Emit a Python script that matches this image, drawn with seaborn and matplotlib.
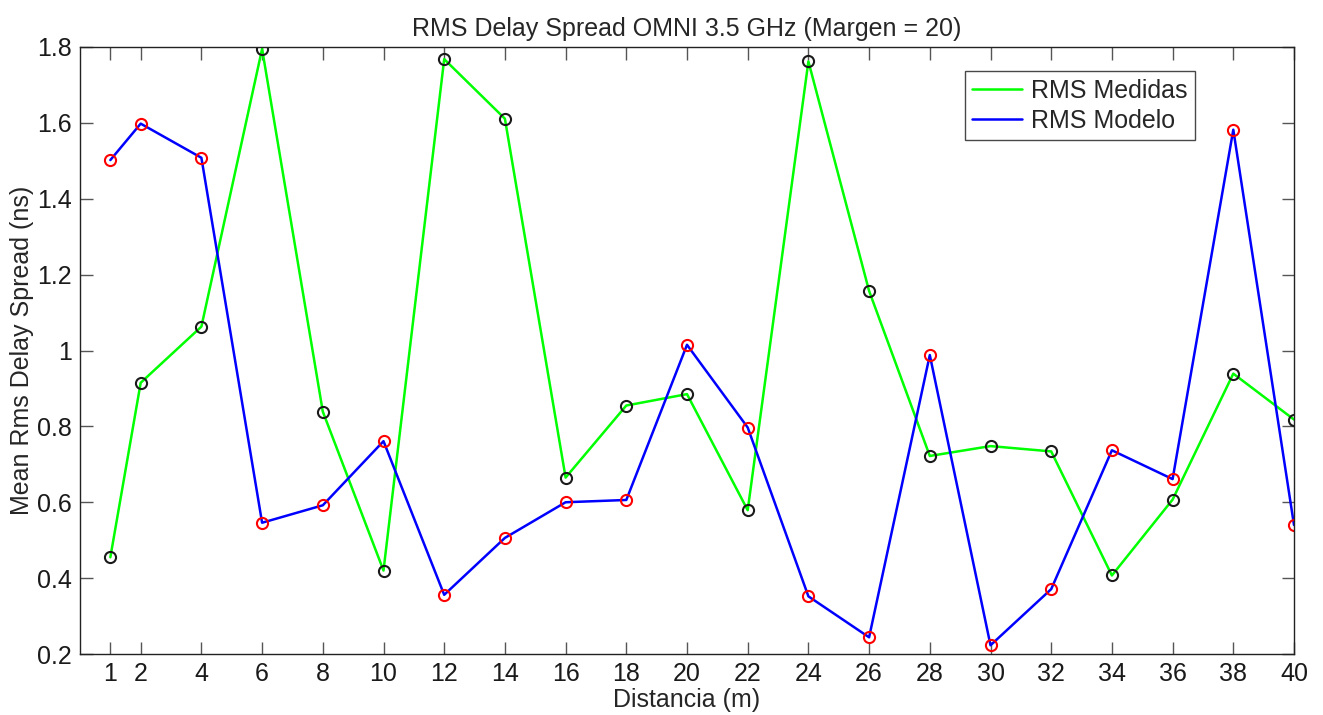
import matplotlib
matplotlib.use("Agg")
import matplotlib.pyplot as plt
import seaborn as sns
import pandas as pd

distancia = [1, 2, 4, 6, 8, 10, 12, 14, 16, 18, 20, 22, 24, 26, 28, 30, 32, 34, 36, 38, 40]
rms_medidas = [0.455, 0.915, 1.063, 1.795, 0.839, 0.420, 1.768, 1.611, 0.665, 0.855, 0.885,
               0.579, 1.762, 1.157, 0.722, 0.748, 0.734, 0.407, 0.607, 0.939, 0.818]
rms_modelo = [1.502, 1.598, 1.508, 0.546, 0.592, 0.761, 0.356, 0.506, 0.600, 0.606, 1.015,
              0.797, 0.352, 0.244, 0.988, 0.223, 0.371, 0.737, 0.661, 1.582, 0.540]
y_ticks = [0.2, 0.4, 0.6, 0.8, 1.0, 1.2, 1.4, 1.6, 1.8]
y_tick_labels = ["0.2", "0.4", "0.6", "0.8", "1", "1.2", "1.4", "1.6", "1.8"]

df = pd.DataFrame({"x": distancia, "med": rms_medidas, "mod": rms_modelo})

sns.set_theme(style="ticks")
plt.rcParams["font.family"] = ["Liberation Sans", "DejaVu Sans"]
FS = 18

fig = plt.figure(figsize=(13.23, 7.15), dpi=100)
ax = fig.add_axes([80 / 1323, 1 - 654 / 715, (1294 - 80) / 1323, (654 - 47) / 715])

sns.lineplot(data=df, x="x", y="med", color="#00ff00", lw=1.8, label="RMS Medidas", ax=ax)
sns.lineplot(data=df, x="x", y="mod", color="#0000ff", lw=1.8, label="RMS Modelo", ax=ax)
sns.lineplot(data=df, x="x", y="med", color="k", marker="o", linestyle="none", markersize=8,
             markerfacecolor="none", markeredgecolor="k", markeredgewidth=1.5, legend=False, ax=ax)
sns.lineplot(data=df, x="x", y="mod", color="r", marker="o", linestyle="none", markersize=8,
             markerfacecolor="none", markeredgecolor="#ff0000", markeredgewidth=1.5, legend=False, ax=ax)

ax.set_xlim(0, 40)
ax.set_ylim(0.2, 1.8)
ax.set_xticks(distancia)
ax.set_xticklabels([str(v) for v in distancia])
ax.set_yticks(y_ticks)
ax.set_yticklabels(y_tick_labels)
ax.tick_params(direction="in", top=True, right=True, length=9, width=1, color="#555555",
               labelsize=FS, labelcolor="k", pad=6)
for s in ax.spines.values():
    s.set_visible(True)
    s.set_color("#222222")
    s.set_linewidth(1.0)

ax.set_xlabel("Distancia (m)", fontsize=FS, labelpad=1.5)
ax.set_ylabel("Mean Rms Delay Spread (ns)", fontsize=FS, labelpad=2)
ax.set_title("RMS Delay Spread OMNI 3.5 GHz (Margen = 20)", fontsize=FS, pad=8)

leg = ax.legend(loc="upper right", bbox_to_anchor=((1195 - 80) / 1214, (654 - 71) / 607),
                borderaxespad=0, fontsize=FS, frameon=True, fancybox=False,
                handlelength=2.0, handletextpad=0.35, borderpad=0.3, labelspacing=0.25)
leg.get_frame().set_edgecolor("k")
leg.get_frame().set_linewidth(1.0)

fig.savefig("out.png", dpi=100, facecolor="white")
